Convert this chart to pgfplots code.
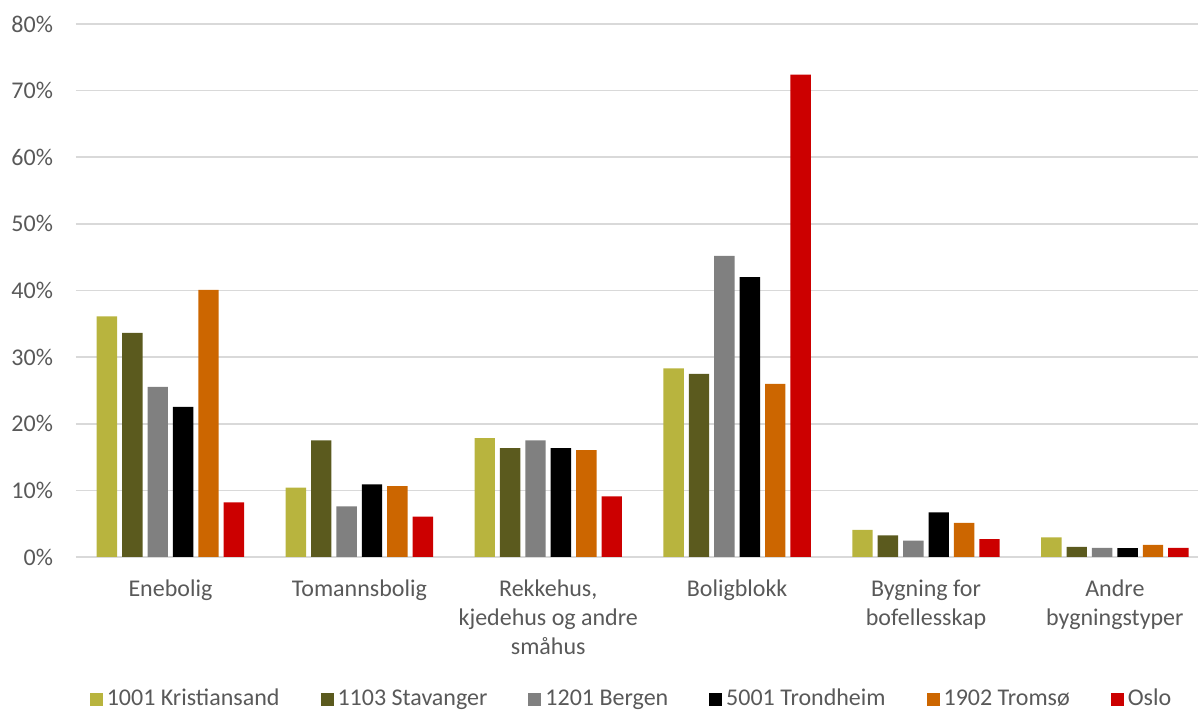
\documentclass[border=0pt]{standalone}
\usepackage{fontspec}
\setmainfont{Carlito}
\usepackage{pgfplots}
\pgfplotsset{compat=1.18}
\definecolor{cK}{HTML}{B8B43E}
\definecolor{cS}{HTML}{5B5A1E}
\definecolor{cB}{HTML}{808080}
\definecolor{cT}{HTML}{000000}
\definecolor{cR}{HTML}{CC6600}
\definecolor{cO}{HTML}{CC0000}
\definecolor{gridc}{HTML}{D9D9D9}
\definecolor{textc}{HTML}{595959}
\begin{document}
\begin{tikzpicture}
\begin{axis}[
  at={(38pt,77pt)}, anchor=south west,
  scale only axis, width=561pt, height=266.5pt,
  ybar=2.5pt, bar width=10.2pt,
  xmin=-0.5, xmax=5.44, ymin=0, ymax=80,
  xtick={0,1,2,3,4,5},
  xticklabels={Enebolig,Tomannsbolig,{Rekkehus,\\kjedehus og andre\\småhus},Boligblokk,{Bygning for\\bofellesskap},{Andre\\bygningstyper}},
  ytick={0,10,...,80},
  yticklabel={\pgfmathprintnumber{\tick}\%},
  /pgf/number format/assume math mode=true,
  ymajorgrids, grid style={color=gridc, line width=0.85pt},
  axis line style={draw=none}, major tick length=0pt,
  tick label style={font=\fontsize{12}{14.5}\selectfont, text=textc},
  xticklabel style={align=center, yshift=-8pt},
  yticklabel style={xshift=-8pt},
  legend columns=6,
  legend style={at={(0.496,-0.2665)}, anchor=center, draw=none,
    font=\fontsize{12}{14.5}\selectfont, text=textc,
    /tikz/every even column/.append style={column sep=18.5pt}},
  legend image code/.code={\fill[#1] (0pt,-3.25pt) rectangle (6.5pt,3.25pt);},
]
\addplot[fill=cK, draw=none] coordinates {(0,36.1) (1,10.4) (2,17.85) (3,28.3) (4,4.06) (5,2.94)};
\addplot[fill=cS, draw=none] coordinates {(0,33.65) (1,17.5) (2,16.35) (3,27.5) (4,3.25) (5,1.52)};
\addplot[fill=cB, draw=none] coordinates {(0,25.55) (1,7.6) (2,17.5) (3,45.2) (4,2.44) (5,1.37)};
\addplot[fill=cT, draw=none] coordinates {(0,22.55) (1,10.9) (2,16.35) (3,42.0) (4,6.7) (5,1.32)};
\addplot[fill=cR, draw=none] coordinates {(0,40.1) (1,10.65) (2,16.05) (3,26.0) (4,5.13) (5,1.83)};
\addplot[fill=cO, draw=none] coordinates {(0,8.2) (1,6.05) (2,9.1) (3,72.4) (4,2.69) (5,1.37)};
\legend{1001 Kristiansand,1103 Stavanger,1201 Bergen,5001 Trondheim,1902 Tromsø,Oslo}
\end{axis}
\pgfresetboundingbox
\useasboundingbox (0,0) rectangle (600pt,355.5pt);
\end{tikzpicture}
\end{document}
